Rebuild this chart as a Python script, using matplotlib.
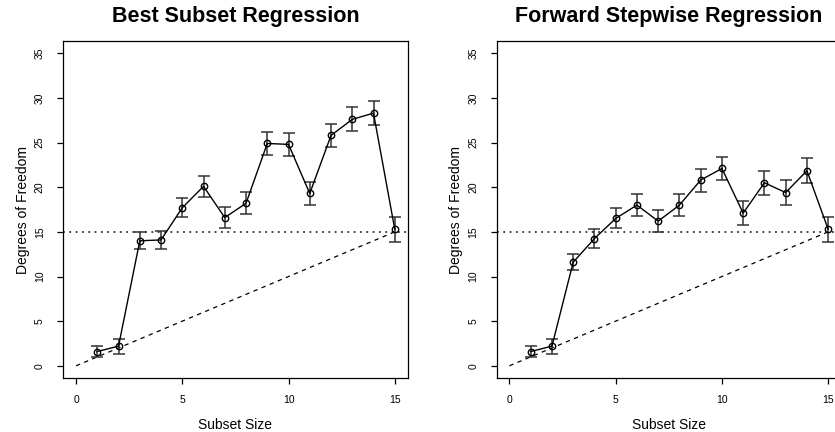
import matplotlib
matplotlib.use("Agg")
import matplotlib.pyplot as plt
import numpy as np

plt.rcParams['font.family'] = ['Liberation Sans', 'DejaVu Sans']

subset_size = [1, 2, 3, 4, 5, 6, 7, 8, 9, 10, 11, 12, 13, 14, 15]

best_df = [1.6, 2.2, 14.0, 14.1, 17.7, 20.1, 16.6, 18.2, 24.9, 24.8, 19.3, 25.8, 27.6, 28.3, 15.3]
best_se = [0.63, 0.84, 0.97, 1.0, 1.08, 1.15, 1.2, 1.23, 1.25, 1.27, 1.3, 1.32, 1.34, 1.36, 1.4]

fwd_df = [1.6, 2.2, 11.6, 14.25, 16.5, 18.0, 16.2, 18.0, 20.8, 22.1, 17.1, 20.5, 19.4, 21.85, 15.3]
fwd_se = [0.63, 0.84, 0.91, 1.04, 1.12, 1.19, 1.23, 1.27, 1.28, 1.28, 1.32, 1.32, 1.36, 1.4, 1.4]

titles = ["Best Subset Regression", "Forward Stepwise Regression"]
n_pred = 15

W, H = 835, 432
fig = plt.figure(figsize=(W / 100, H / 100), dpi=100)

ax_w = 344.2 / W
ax_h = 337.5 / H
ax_b = (H - 378.3) / H
lefts = [63.3 / W, 496.7 / W]


def panel(ax, df, se, title):
    ax.axhline(n_pred, color='#333333', lw=1.3, linestyle=(0, (1, 2.5)))
    ax.plot([0, n_pred], [0, n_pred], color='black', lw=0.9, linestyle=(0, (3.5, 3.5)))
    ax.errorbar(subset_size, df, yerr=se, fmt='none', ecolor='#333333',
                elinewidth=1.1, capsize=4.5, capthick=1.1)
    ax.plot(subset_size, df, '-', color='black', lw=1.0)
    ax.plot(subset_size, df, 'o', markersize=4.6, markerfacecolor='none',
            markeredgecolor='black', markeredgewidth=1.0)
    ax.set_xlim(-0.6, 15.6)
    ax.set_ylim(-1.4, 36.4)
    ax.set_xticks([0, 5, 10, 15])
    ax.set_yticks([0, 5, 10, 15, 20, 25, 30, 35])
    ax.tick_params(direction='out', length=4.3, width=0.9, labelsize=7.5, pad=8)
    ax.tick_params(axis='y', labelrotation=90, pad=9)
    for lab in ax.get_yticklabels():
        lab.set_va('center')
    for s in ax.spines.values():
        s.set_linewidth(0.9)
    ax.set_title(title, fontsize=15.5, fontweight='bold', pad=13.5)
    ax.set_xlabel("Subset Size", fontsize=10, labelpad=9)
    ax.set_ylabel("Degrees of Freedom", fontsize=10, labelpad=3.5)


for left, df, se, title in zip(lefts, [best_df, fwd_df], [best_se, fwd_se], titles):
    ax = fig.add_axes([left, ax_b, ax_w, ax_h])
    panel(ax, df, se, title)

fig.savefig("out.png", dpi=100)
